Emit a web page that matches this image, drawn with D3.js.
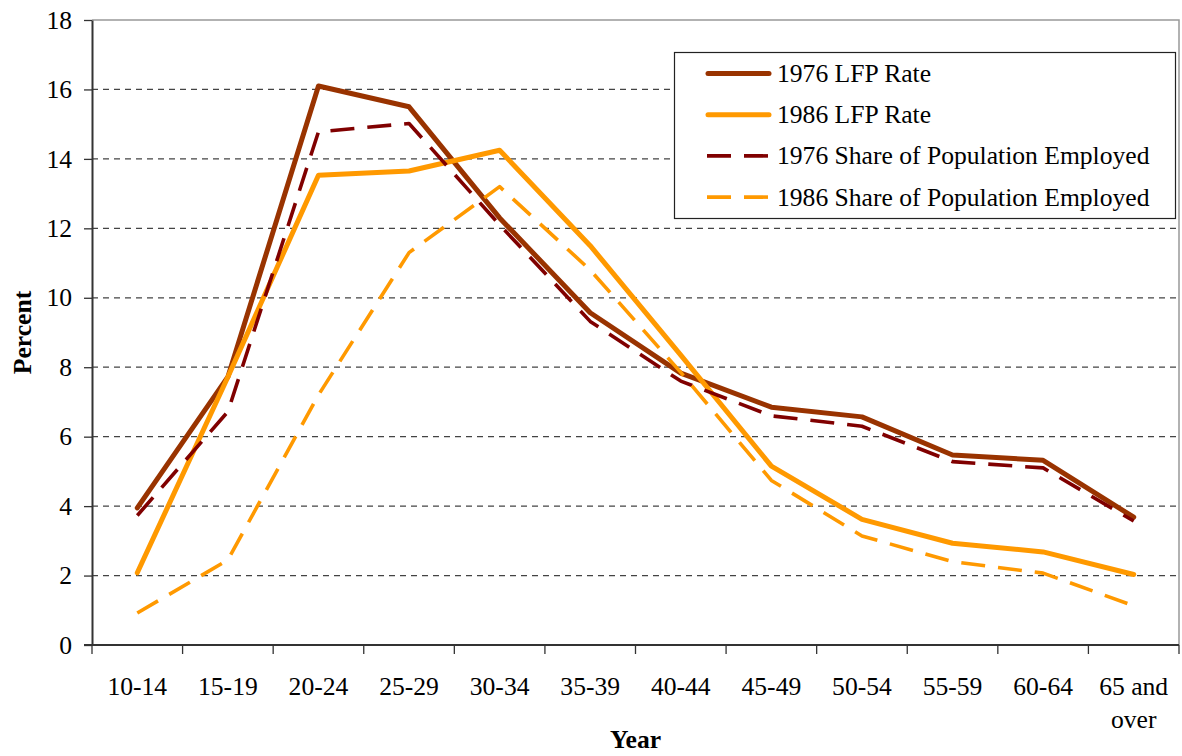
<!DOCTYPE html>
<html>
<head>
<meta charset="utf-8">
<script src="https://cdn.jsdelivr.net/npm/d3@7"></script>
<style>
  html, body { margin: 0; padding: 0; background: #fff; }
  svg { display: block; font-family: "Liberation Serif", "Times New Roman", serif; }
</style>
</head>
<body>
<svg id="chart" width="1182" height="756"></svg>
<script>
// Age groups along the x axis
const ageGroups = ["10-14", "15-19", "20-24", "25-29", "30-34", "35-39", "40-44",
                   "45-49", "50-54", "55-59", "60-64", "65 and over"];

// Percent values per age group
const lfp1976   = [3.95, 7.72, 16.1, 15.5, 12.3, 9.57, 7.83, 6.85, 6.57, 5.47, 5.32, 3.68];
const lfp1986   = [2.08, 7.72, 13.53, 13.65, 14.25, 11.5, 8.35, 5.15, 3.62, 2.93, 2.68, 2.03];
const share1976 = [3.73, 6.72, 14.78, 15.02, 12.1, 9.32, 7.6, 6.6, 6.3, 5.28, 5.1, 3.57];
const share1986 = [0.92, 2.45, 7.2, 11.3, 13.2, 10.8, 7.85, 4.74, 3.14, 2.4, 2.07, 1.13];

const yTicks = [0, 2, 4, 6, 8, 10, 12, 14, 16, 18];

const series = [
  { name: "1976 LFP Rate", values: lfp1976, color: "#993300", width: 5, dash: null },
  { name: "1986 LFP Rate", values: lfp1986, color: "#FF9900", width: 5, dash: null },
  { name: "1976 Share of Population Employed", values: share1976, color: "#800000", width: 3.6, dash: "24,13" },
  { name: "1986 Share of Population Employed", values: share1986, color: "#FF9900", width: 3.6, dash: "24,13" }
];

const fontSize = 25.6;

const svg = d3.select("#chart");
const plotLeft = 92, plotRight = 1179, plotTop = 20, plotBottom = 645;

const x = d3.scaleBand().domain(ageGroups).range([plotLeft, plotRight]).padding(0);
const y = d3.scaleLinear().domain([0, 18]).range([plotBottom, plotTop]);

// horizontal dashed gridlines
svg.append("g")
  .selectAll("line")
  .data(yTicks.filter(t => t > 0 && t < 18))
  .join("line")
  .attr("x1", plotLeft).attr("x2", plotRight)
  .attr("y1", d => y(d)).attr("y2", d => y(d))
  .attr("stroke", "#444")
  .attr("stroke-width", 1.2)
  .attr("stroke-dasharray", "6,5");

// plot-area frame: top and right edges in light grey
svg.append("path")
  .attr("d", `M${plotLeft},${plotTop}H${plotRight}V${plotBottom}`)
  .attr("fill", "none")
  .attr("stroke", "#999")
  .attr("stroke-width", 1.5);

// y axis
const yAxis = svg.append("g")
  .attr("transform", `translate(${plotLeft},0)`)
  .call(d3.axisLeft(y).tickValues(yTicks).tickSize(8).tickPadding(12).tickSizeOuter(0));
yAxis.select(".domain").attr("stroke", "#333").attr("stroke-width", 2);
yAxis.selectAll(".tick line").attr("stroke", "#333").attr("stroke-width", 1.3);
yAxis.selectAll(".tick text")
  .attr("font-family", "Liberation Serif, serif")
  .attr("font-size", fontSize)
  .attr("fill", "#000");

// x axis with ticks at the band boundaries
svg.append("line")
  .attr("x1", plotLeft - 8).attr("x2", plotRight)
  .attr("y1", plotBottom).attr("y2", plotBottom)
  .attr("stroke", "#333").attr("stroke-width", 2);

const boundaries = ageGroups.map(g => x(g)).concat([x(ageGroups[ageGroups.length - 1]) + x.bandwidth()]);
svg.append("g")
  .selectAll("line")
  .data(boundaries)
  .join("line")
  .attr("x1", d => d).attr("x2", d => d)
  .attr("y1", plotBottom).attr("y2", plotBottom + 9)
  .attr("stroke", "#333").attr("stroke-width", 1.3);

const xLabels = svg.append("g")
  .attr("font-size", fontSize)
  .attr("text-anchor", "middle")
  .attr("fill", "#000");
ageGroups.forEach(g => {
  const cx = x(g) + x.bandwidth() / 2;
  const parts = g === "65 and over" ? ["65 and", "over"] : [g];
  const t = xLabels.append("text").attr("x", cx).attr("y", 695);
  parts.forEach((p, i) => {
    t.append("tspan").attr("x", cx).attr("dy", i === 0 ? 0 : 33).text(p);
  });
});

// axis titles
svg.append("text")
  .attr("x", (plotLeft + plotRight) / 2).attr("y", 748)
  .attr("text-anchor", "middle")
  .attr("font-size", fontSize).attr("font-weight", "bold")
  .text("Year");

svg.append("text")
  .attr("transform", `translate(31,${(plotTop + plotBottom) / 2}) rotate(-90)`)
  .attr("text-anchor", "middle")
  .attr("font-size", fontSize).attr("font-weight", "bold")
  .text("Percent");

// series lines
const line = d3.line()
  .x((d, i) => x(ageGroups[i]) + x.bandwidth() / 2)
  .y(d => y(d));

svg.append("g")
  .selectAll("path")
  .data(series)
  .join("path")
  .attr("d", d => line(d.values))
  .attr("fill", "none")
  .attr("stroke", d => d.color)
  .attr("stroke-width", d => d.width)
  .attr("stroke-dasharray", d => d.dash)
  .attr("stroke-linejoin", "round")
  .attr("stroke-linecap", d => d.dash ? "butt" : "round");

// legend
const lg = svg.append("g");
lg.append("rect")
  .attr("x", 674.5).attr("y", 52.5)
  .attr("width", 501).attr("height", 166)
  .attr("fill", "#fff")
  .attr("stroke", "#222").attr("stroke-width", 1.2);

series.forEach((s, i) => {
  const cy = 73.5 + i * 41.2;
  lg.append("line")
    .attr("x1", s.dash ? 707 : 708).attr("x2", s.dash ? 770 : 769)
    .attr("y1", cy).attr("y2", cy)
    .attr("stroke", s.color)
    .attr("stroke-width", s.width)
    .attr("stroke-dasharray", s.dash)
    .attr("stroke-linecap", s.dash ? "butt" : "round");
  lg.append("text")
    .attr("x", 777).attr("y", cy + 8.5)
    .attr("font-size", fontSize)
    .attr("fill", "#000")
    .text(s.name);
});
</script>
</body>
</html>
